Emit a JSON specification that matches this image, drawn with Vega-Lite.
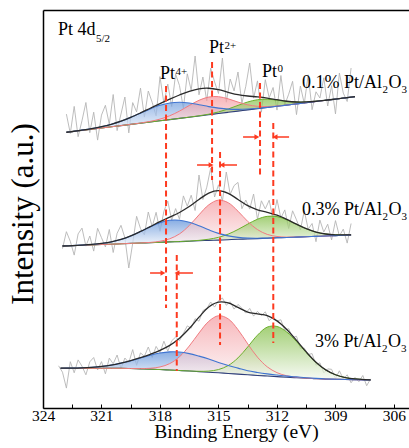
{
  "$schema": "https://vega.github.io/schema/vega-lite/v6.json",
  "width": 366,
  "height": 398,
  "autosize": {"type": "none"},
  "padding": {"left": 43, "top": 10, "right": 0, "bottom": 40},
  "background": "white",
  "config": {
    "view": {"stroke": null},
    "font": "Liberation Serif",
    "axis": {"labelFont": "Liberation Serif", "titleFont": "Liberation Serif", "titleFontWeight": "normal", "labelColor": "black", "titleColor": "black", "domainColor": "black", "tickColor": "black", "grid": false}
  },
  "resolve": {"axis": {"x": "independent", "y": "independent"}},
  "datasets": {
    "raw": [
      {"s":"a","e":322.8,"v":293.9},{"s":"a","e":322.6,"v":274.6},{"s":"a","e":322.4,"v":301.6},{"s":"a","e":322.2,"v":271.3},{"s":"a","e":322.0,"v":287.3},{"s":"a","e":321.8,"v":305.5},{"s":"a","e":321.6,"v":275.3},{"s":"a","e":321.4,"v":295.8},{"s":"a","e":321.2,"v":267.9},{"s":"a","e":321.0,"v":292.9},
      {"s":"a","e":320.8,"v":302.7},{"s":"a","e":320.6,"v":283.8},{"s":"a","e":320.4,"v":313.5},{"s":"a","e":320.2,"v":277.4},{"s":"a","e":320.0,"v":294.0},{"s":"a","e":319.8,"v":311.0},{"s":"a","e":319.6,"v":275.1},{"s":"a","e":319.4,"v":305.4},{"s":"a","e":319.2,"v":296.1},{"s":"a","e":319.0,"v":319.9},
      {"s":"a","e":318.8,"v":290.9},{"s":"a","e":318.6,"v":317.0},{"s":"a","e":318.4,"v":305.6},{"s":"a","e":318.2,"v":292.1},{"s":"a","e":318.0,"v":331.4},{"s":"a","e":317.8,"v":304.6},{"s":"a","e":317.6,"v":323.9},{"s":"a","e":317.4,"v":301.4},{"s":"a","e":317.2,"v":333.9},{"s":"a","e":317.0,"v":322.4},
      {"s":"a","e":316.8,"v":299.7},{"s":"a","e":316.6,"v":334.2},{"s":"a","e":316.4,"v":317.8},{"s":"a","e":316.2,"v":352},{"s":"a","e":316.0,"v":313.2},{"s":"a","e":315.8,"v":331.0},{"s":"a","e":315.6,"v":307.1},{"s":"a","e":315.4,"v":339.9},{"s":"a","e":315.2,"v":326.1},{"s":"a","e":315.0,"v":314.5},
      {"s":"a","e":314.8,"v":350},{"s":"a","e":314.6,"v":305.8},{"s":"a","e":314.4,"v":329.0},{"s":"a","e":314.2,"v":317.1},{"s":"a","e":314.0,"v":336.0},{"s":"a","e":313.8,"v":304.6},{"s":"a","e":313.6,"v":321.7},{"s":"a","e":313.4,"v":345},{"s":"a","e":313.2,"v":309.9},{"s":"a","e":313.0,"v":327.1},
      {"s":"a","e":312.8,"v":295.8},{"s":"a","e":312.6,"v":328.3},{"s":"a","e":312.4,"v":310.2},{"s":"a","e":312.2,"v":320.5},{"s":"a","e":312.0,"v":297.9},{"s":"a","e":311.8,"v":332.5},{"s":"a","e":311.6,"v":303.3},{"s":"a","e":311.4,"v":313.8},{"s":"a","e":311.2,"v":326.7},{"s":"a","e":311.0,"v":293.4},
      {"s":"a","e":310.8,"v":322.0},{"s":"a","e":310.6,"v":304.4},{"s":"a","e":310.4,"v":333.2},{"s":"a","e":310.2,"v":298.3},{"s":"a","e":310.0,"v":316.2},{"s":"a","e":309.8,"v":310.0},{"s":"a","e":309.6,"v":330.2},{"s":"a","e":309.4,"v":302.0},{"s":"a","e":309.2,"v":322.3},{"s":"a","e":309.0,"v":294.1},
      {"s":"a","e":308.8,"v":335},{"s":"a","e":308.6,"v":314.9},{"s":"a","e":308.4,"v":306.5},{"s":"a","e":308.2,"v":340},
      {"s":"b","e":323.0,"v":159.4},{"s":"b","e":322.8,"v":176.3},{"s":"b","e":322.6,"v":166.7},{"s":"b","e":322.4,"v":152.9},{"s":"b","e":322.2,"v":174.1},{"s":"b","e":322.0,"v":179.9},{"s":"b","e":321.8,"v":161.9},{"s":"b","e":321.6,"v":172.0},{"s":"b","e":321.4,"v":156.9},{"s":"b","e":321.2,"v":179.7},
      {"s":"b","e":321.0,"v":170.3},{"s":"b","e":320.8,"v":161.1},{"s":"b","e":320.6,"v":178.5},{"s":"b","e":320.4,"v":155.5},{"s":"b","e":320.2,"v":174.7},{"s":"b","e":320.0,"v":182.7},{"s":"b","e":319.8,"v":170.1},{"s":"b","e":319.6,"v":140},{"s":"b","e":319.4,"v":164.7},{"s":"b","e":319.2,"v":191.7},
      {"s":"b","e":319.0,"v":179.5},{"s":"b","e":318.8,"v":173.1},{"s":"b","e":318.6,"v":196.0},{"s":"b","e":318.4,"v":181.2},{"s":"b","e":318.2,"v":195.7},{"s":"b","e":318.0,"v":176.7},{"s":"b","e":317.8,"v":196.7},{"s":"b","e":317.6,"v":206.9},{"s":"b","e":317.4,"v":187.7},{"s":"b","e":317.2,"v":199.4},
      {"s":"b","e":317.0,"v":188.7},{"s":"b","e":316.8,"v":212.1},{"s":"b","e":316.6,"v":201.8},{"s":"b","e":316.4,"v":212.8},{"s":"b","e":316.2,"v":197.5},{"s":"b","e":316.0,"v":233},{"s":"b","e":315.8,"v":208.5},{"s":"b","e":315.6,"v":220.8},{"s":"b","e":315.4,"v":240},{"s":"b","e":315.2,"v":211.0},
      {"s":"b","e":315.0,"v":223.2},{"s":"b","e":314.8,"v":206.7},{"s":"b","e":314.6,"v":236},{"s":"b","e":314.4,"v":213.7},{"s":"b","e":314.2,"v":222.4},{"s":"b","e":314.0,"v":225.6},{"s":"b","e":313.8,"v":199.3},{"s":"b","e":313.6,"v":208.0},{"s":"b","e":313.4,"v":198.9},{"s":"b","e":313.2,"v":214.0},
      {"s":"b","e":313.0,"v":188.6},{"s":"b","e":312.8,"v":207.2},{"s":"b","e":312.6,"v":199.1},{"s":"b","e":312.4,"v":207.8},{"s":"b","e":312.2,"v":188.5},{"s":"b","e":312.0,"v":208.4},{"s":"b","e":311.8,"v":190.0},{"s":"b","e":311.6,"v":198.1},{"s":"b","e":311.4,"v":179.5},{"s":"b","e":311.2,"v":197.2},
      {"s":"b","e":311.0,"v":188.2},{"s":"b","e":310.8,"v":178.0},{"s":"b","e":310.6,"v":197.2},{"s":"b","e":310.4,"v":178.8},{"s":"b","e":310.2,"v":184.5},{"s":"b","e":310.0,"v":166.3},{"s":"b","e":309.8,"v":187.9},{"s":"b","e":309.6,"v":176.0},{"s":"b","e":309.4,"v":183.8},{"s":"b","e":309.2,"v":168.1},
      {"s":"b","e":309.0,"v":187.4},{"s":"b","e":308.8,"v":172.0},{"s":"b","e":308.6,"v":178.9},{"s":"b","e":308.4,"v":164.9},{"s":"b","e":308.2,"v":184.5},
      {"s":"c","e":323.2,"v":42.2},{"s":"c","e":323.0,"v":35.8},{"s":"c","e":322.8,"v":19.9},{"s":"c","e":322.6,"v":46.3},{"s":"c","e":322.4,"v":35.2},{"s":"c","e":322.2,"v":48.1},{"s":"c","e":322.0,"v":41.8},{"s":"c","e":321.8,"v":33.2},{"s":"c","e":321.6,"v":46.2},{"s":"c","e":321.4,"v":50.5},
      {"s":"c","e":321.2,"v":38.0},{"s":"c","e":321.0,"v":46.4},{"s":"c","e":320.8,"v":34.2},{"s":"c","e":320.6,"v":49.9},{"s":"c","e":320.4,"v":44.2},{"s":"c","e":320.2,"v":53.0},{"s":"c","e":320.0,"v":39.4},{"s":"c","e":319.8,"v":50.0},{"s":"c","e":319.6,"v":45.3},{"s":"c","e":319.4,"v":58.4},
      {"s":"c","e":319.2,"v":42.7},{"s":"c","e":319.0,"v":55.1},{"s":"c","e":318.8,"v":51.7},{"s":"c","e":318.6,"v":61.0},{"s":"c","e":318.4,"v":50.5},{"s":"c","e":318.2,"v":61.6},{"s":"c","e":318.0,"v":55.2},{"s":"c","e":317.8,"v":66.8},{"s":"c","e":317.6,"v":56.8},{"s":"c","e":317.4,"v":67.2},
      {"s":"c","e":317.2,"v":70.9},{"s":"c","e":317.0,"v":67.3},{"s":"c","e":316.8,"v":74.7},{"s":"c","e":316.6,"v":82.1},{"s":"c","e":316.4,"v":79.8},{"s":"c","e":316.2,"v":89.3},{"s":"c","e":316.0,"v":86.8},{"s":"c","e":315.8,"v":97.4},{"s":"c","e":315.6,"v":99.5},{"s":"c","e":315.4,"v":106.0},
      {"s":"c","e":315.2,"v":100.9},{"s":"c","e":315.0,"v":107.3},{"s":"c","e":314.8,"v":110.0},{"s":"c","e":314.6,"v":102.8},{"s":"c","e":314.4,"v":106.2},{"s":"c","e":314.2,"v":98.9},{"s":"c","e":314.0,"v":103.6},{"s":"c","e":313.8,"v":99.8},{"s":"c","e":313.6,"v":94.9},{"s":"c","e":313.4,"v":99.6},
      {"s":"c","e":313.2,"v":91.9},{"s":"c","e":313.0,"v":96.6},{"s":"c","e":312.8,"v":92.4},{"s":"c","e":312.6,"v":96.2},{"s":"c","e":312.4,"v":87.3},{"s":"c","e":312.2,"v":91.2},{"s":"c","e":312.0,"v":87.1},{"s":"c","e":311.8,"v":88.2},{"s":"c","e":311.6,"v":77.7},{"s":"c","e":311.4,"v":79.3},
      {"s":"c","e":311.2,"v":70.5},{"s":"c","e":311.0,"v":71.7},{"s":"c","e":310.8,"v":59.6},{"s":"c","e":310.6,"v":59.9},{"s":"c","e":310.4,"v":53.5},{"s":"c","e":310.2,"v":54.4},{"s":"c","e":310.0,"v":42.8},{"s":"c","e":309.8,"v":45.2},{"s":"c","e":309.6,"v":35.1},{"s":"c","e":309.4,"v":39.1},
      {"s":"c","e":309.2,"v":38.7},{"s":"c","e":309.0,"v":29.3},{"s":"c","e":308.8,"v":37.2},{"s":"c","e":308.6,"v":29.1},{"s":"c","e":308.4,"v":33.2},{"s":"c","e":308.2,"v":25.2},{"s":"c","e":308.0,"v":30.6},{"s":"c","e":307.8,"v":26.3},{"s":"c","e":307.6,"v":32.5},{"s":"c","e":307.4,"v":22.3},
      {"s":"c","e":307.2,"v":29.1}
    ],
    "fit": [
      {"s":"a","e":322.8,"b":275.7,"bl":275.75,"rd":275.7,"gr":275.7,"env":275.75},
      {"s":"a","e":322.5,"b":276.4,"bl":276.5,"rd":276.4,"gr":276.4,"env":276.5},
      {"s":"a","e":322.0,"b":277.6,"bl":277.87,"rd":277.6,"gr":277.6,"env":277.87},
      {"s":"a","e":321.5,"b":278.8,"bl":279.42,"rd":278.8,"gr":278.8,"env":279.42},
      {"s":"a","e":321.0,"b":280.0,"bl":281.32,"rd":280.0,"gr":280.0,"env":281.32},
      {"s":"a","e":320.5,"b":281.2,"bl":283.74,"rd":281.2,"gr":281.2,"env":283.74},
      {"s":"a","e":320.0,"b":282.4,"bl":286.83,"rd":282.41,"gr":282.4,"env":286.84},
      {"s":"a","e":319.5,"b":283.6,"bl":290.62,"rd":283.65,"gr":283.6,"env":290.67},
      {"s":"a","e":319.0,"b":284.8,"bl":294.87,"rd":285.0,"gr":284.8,"env":295.07},
      {"s":"a","e":318.5,"b":286.0,"bl":299.1,"rd":286.63,"gr":286.0,"env":299.73},
      {"s":"a","e":318.0,"b":287.2,"bl":302.67,"rd":288.9,"gr":287.2,"env":304.37},
      {"s":"a","e":317.5,"b":288.4,"bl":304.97,"rd":292.25,"gr":288.4,"env":308.82},
      {"s":"a","e":317.0,"b":289.6,"bl":305.69,"rd":296.92,"gr":289.6,"env":313.01},
      {"s":"a","e":316.5,"b":290.8,"bl":304.98,"rd":302.5,"gr":290.85,"env":316.73},
      {"s":"a","e":316.0,"b":292.0,"bl":303.32,"rd":307.71,"gr":292.19,"env":319.22},
      {"s":"a","e":315.5,"b":293.2,"bl":301.4,"rd":310.94,"gr":293.81,"env":319.75},
      {"s":"a","e":315.0,"b":294.5,"bl":299.89,"rd":311.34,"gr":296.08,"env":318.31},
      {"s":"a","e":314.5,"b":295.7,"bl":298.91,"rd":309.14,"gr":299.03,"env":315.68},
      {"s":"a","e":314.0,"b":296.9,"bl":298.64,"rd":305.91,"gr":302.61,"env":313.36},
      {"s":"a","e":313.5,"b":298.1,"bl":298.95,"rd":303.19,"gr":306.04,"env":311.98},
      {"s":"a","e":313.0,"b":299.3,"bl":299.68,"rd":301.71,"gr":308.29,"env":311.08},
      {"s":"a","e":312.5,"b":300.5,"bl":300.65,"rd":301.46,"gr":308.78,"env":309.89},
      {"s":"a","e":312.0,"b":301.7,"bl":301.75,"rd":302.02,"gr":307.9,"env":308.27},
      {"s":"a","e":311.5,"b":302.9,"bl":302.9,"rd":302.99,"gr":306.67,"env":306.76},
      {"s":"a","e":311.0,"b":304.1,"bl":304.1,"rd":304.12,"gr":305.97,"env":305.99},
      {"s":"a","e":310.5,"b":305.3,"bl":305.3,"rd":305.3,"gr":306.05,"env":306.05},
      {"s":"a","e":310.0,"b":306.5,"bl":306.5,"rd":306.5,"gr":306.75,"env":306.75},
      {"s":"a","e":309.5,"b":307.7,"bl":307.7,"rd":307.7,"gr":307.77,"env":307.77},
      {"s":"a","e":309.0,"b":308.9,"bl":308.9,"rd":308.9,"gr":308.91,"env":308.91},
      {"s":"a","e":308.5,"b":310.1,"bl":310.1,"rd":310.1,"gr":310.1,"env":310.1},
      {"s":"a","e":308.0,"b":311.3,"bl":311.3,"rd":311.3,"gr":311.3,"env":311.3},
      {"s":"b","e":323.0,"b":162.0,"bl":162.01,"rd":162.0,"gr":162.0,"env":162.01},
      {"s":"b","e":322.5,"b":162.3,"bl":162.35,"rd":162.3,"gr":162.3,"env":162.35},
      {"s":"b","e":322.0,"b":162.7,"bl":162.86,"rd":162.7,"gr":162.7,"env":162.86},
      {"s":"b","e":321.5,"b":163.1,"bl":163.53,"rd":163.1,"gr":163.1,"env":163.53},
      {"s":"b","e":321.0,"b":163.5,"bl":164.54,"rd":163.5,"gr":163.5,"env":164.54},
      {"s":"b","e":320.5,"b":163.8,"bl":166.04,"rd":163.8,"gr":163.8,"env":166.04},
      {"s":"b","e":320.0,"b":164.2,"bl":168.52,"rd":164.2,"gr":164.2,"env":168.52},
      {"s":"b","e":319.5,"b":164.6,"bl":172.03,"rd":164.61,"gr":164.6,"env":172.04},
      {"s":"b","e":319.0,"b":165.0,"bl":176.47,"rd":165.07,"gr":165.0,"env":176.54},
      {"s":"b","e":318.5,"b":165.3,"bl":181.13,"rd":165.59,"gr":165.3,"env":181.42},
      {"s":"b","e":318.0,"b":165.7,"bl":185.25,"rd":166.75,"gr":165.7,"env":186.3},
      {"s":"b","e":317.5,"b":166.1,"bl":187.7,"rd":169.24,"gr":166.1,"env":190.84},
      {"s":"b","e":317.0,"b":166.4,"bl":187.77,"rd":174.12,"gr":166.44,"env":195.53},
      {"s":"b","e":316.5,"b":166.8,"bl":185.7,"rd":182.4,"gr":166.93,"env":201.43},
      {"s":"b","e":316.0,"b":167.2,"bl":182.17,"rd":193.17,"gr":167.63,"env":208.57},
      {"s":"b","e":315.5,"b":167.6,"bl":178.21,"rd":203.13,"gr":168.77,"env":214.91},
      {"s":"b","e":315.0,"b":167.9,"bl":174.63,"rd":207.86,"gr":170.66,"env":217.35},
      {"s":"b","e":314.5,"b":168.3,"bl":172.12,"rd":205.25,"gr":173.9,"env":214.67},
      {"s":"b","e":314.0,"b":168.7,"bl":170.64,"rd":196.8,"gr":178.53,"env":208.57},
      {"s":"b","e":313.5,"b":169.0,"bl":169.88,"rd":186.56,"gr":183.88,"env":202.32},
      {"s":"b","e":313.0,"b":169.4,"bl":169.76,"rd":178.42,"gr":188.82,"env":198.2},
      {"s":"b","e":312.5,"b":169.8,"bl":169.93,"rd":173.61,"gr":191.65,"env":195.59},
      {"s":"b","e":312.0,"b":170.2,"bl":170.24,"rd":171.52,"gr":191.42,"env":192.78},
      {"s":"b","e":311.5,"b":170.5,"bl":170.5,"rd":170.88,"gr":188.27,"env":188.65},
      {"s":"b","e":311.0,"b":170.9,"bl":170.9,"rd":170.99,"gr":183.73,"env":183.82},
      {"s":"b","e":310.5,"b":171.3,"bl":171.3,"rd":171.32,"gr":179.29,"env":179.31},
      {"s":"b","e":310.0,"b":171.6,"bl":171.6,"rd":171.6,"gr":175.89,"env":175.89},
      {"s":"b","e":309.5,"b":172.0,"bl":172.0,"rd":172.0,"gr":173.99,"env":173.99},
      {"s":"b","e":309.0,"b":172.4,"bl":172.4,"rd":172.4,"gr":173.19,"env":173.19},
      {"s":"b","e":308.5,"b":172.8,"bl":172.8,"rd":172.8,"gr":173.07,"env":173.07},
      {"s":"b","e":308.2,"b":173.0,"bl":173.0,"rd":173.0,"gr":173.13,"env":173.13},
      {"s":"c","e":323.1,"b":39.7,"bl":39.78,"rd":39.7,"gr":39.7,"env":39.78},
      {"s":"c","e":322.5,"b":39.7,"bl":39.92,"rd":39.7,"gr":39.7,"env":39.92},
      {"s":"c","e":322.0,"b":39.7,"bl":40.19,"rd":39.7,"gr":39.7,"env":40.19},
      {"s":"c","e":321.5,"b":39.7,"bl":40.69,"rd":39.7,"gr":39.7,"env":40.69},
      {"s":"c","e":321.0,"b":39.7,"bl":41.57,"rd":39.7,"gr":39.7,"env":41.57},
      {"s":"c","e":320.5,"b":39.7,"bl":42.96,"rd":39.7,"gr":39.7,"env":42.96},
      {"s":"c","e":320.0,"b":39.7,"bl":44.96,"rd":39.7,"gr":39.7,"env":44.96},
      {"s":"c","e":319.5,"b":39.43,"bl":47.3,"rd":39.49,"gr":39.43,"env":47.36},
      {"s":"c","e":319.0,"b":39.13,"bl":50.03,"rd":39.39,"gr":39.13,"env":50.29},
      {"s":"c","e":318.5,"b":38.84,"bl":52.82,"rd":39.73,"gr":38.84,"env":53.71},
      {"s":"c","e":318.0,"b":38.44,"bl":55.03,"rd":41.04,"gr":38.44,"env":57.63},
      {"s":"c","e":317.5,"b":37.94,"bl":56.17,"rd":44.41,"gr":37.94,"env":62.64},
      {"s":"c","e":317.0,"b":37.45,"bl":55.99,"rd":51.24,"gr":37.45,"env":69.78},
      {"s":"c","e":316.5,"b":36.94,"bl":54.4,"rd":61.94,"gr":37.02,"env":79.48},
      {"s":"c","e":316.0,"b":36.36,"bl":51.86,"rd":74.99,"gr":36.69,"env":90.82},
      {"s":"c","e":315.5,"b":35.77,"bl":48.97,"rd":86.64,"gr":36.9,"env":100.97},
      {"s":"c","e":315.0,"b":35.19,"bl":45.49,"rd":92.27,"gr":38.45,"env":105.83},
      {"s":"c","e":314.5,"b":34.54,"bl":42.54,"rd":89.12,"gr":42.47,"env":105.05},
      {"s":"c","e":314.0,"b":33.87,"bl":39.87,"rd":78.34,"gr":50.09,"env":100.56},
      {"s":"c","e":313.5,"b":33.2,"bl":37.2,"rd":64.08,"gr":61.08,"env":95.96},
      {"s":"c","e":313.0,"b":32.55,"bl":35.55,"rd":50.82,"gr":72.84,"env":94.11},
      {"s":"c","e":312.5,"b":31.96,"bl":34.16,"rd":41.17,"gr":80.9,"env":92.31},
      {"s":"c","e":312.0,"b":31.38,"bl":32.98,"rd":35.33,"gr":81.55,"env":87.1},
      {"s":"c","e":311.5,"b":30.79,"bl":31.89,"rd":32.24,"gr":75.97,"env":78.52},
      {"s":"c","e":311.0,"b":30.28,"bl":31.08,"rd":30.73,"gr":66.41,"env":67.66},
      {"s":"c","e":310.5,"b":29.79,"bl":30.29,"rd":29.91,"gr":55.44,"env":56.06},
      {"s":"c","e":310.0,"b":29.29,"bl":29.59,"rd":29.32,"gr":45.46,"env":45.79},
      {"s":"c","e":309.5,"b":28.91,"bl":29.06,"rd":28.91,"gr":37.97,"env":38.12},
      {"s":"c","e":309.0,"b":28.71,"bl":28.76,"rd":28.71,"gr":33.21,"env":33.26},
      {"s":"c","e":308.5,"b":28.5,"bl":28.5,"rd":28.5,"gr":30.48,"env":30.48},
      {"s":"c","e":308.0,"b":28.3,"bl":28.3,"rd":28.3,"gr":29.08,"env":29.08},
      {"s":"c","e":307.5,"b":28.1,"bl":28.1,"rd":28.1,"gr":28.37,"env":28.37},
      {"s":"c","e":307.2,"b":28.0,"bl":28.0,"rd":28.0,"gr":28.14,"env":28.14}
    ],
    "drops": [
      {"e":317.69,"y1":322,"y2":100},
      {"e":317.14,"y1":153,"y2":37},
      {"e":315.33,"y1":346,"y2":228},
      {"e":314.92,"y1":256,"y2":63},
      {"e":312.87,"y1":325,"y2":233},
      {"e":312.19,"y1":285,"y2":65}
    ],
    "arrows": [
      {"e1":313.74,"e2":313.03,"y":271,"dir":"right"},
      {"e1":311.38,"e2":312.10,"y":271,"dir":"left"},
      {"e1":316.10,"e2":315.38,"y":243,"dir":"right"},
      {"e1":314.05,"e2":314.82,"y":243,"dir":"left"},
      {"e1":318.51,"e2":317.85,"y":135,"dir":"right"},
      {"e1":316.31,"e2":317.13,"y":135,"dir":"left"}
    ],
    "lab": [
      {"t":"Pt 4d","e":323.23,"y":373},
      {"t":"Pt","e":318.0,"y":328.7},
      {"t":"Pt","e":315.49,"y":354.7},
      {"t":"Pt","e":312.77,"y":331.3},
      {"t":"0.1% Pt/Al","e":310.72,"y":320},
      {"t":"O","e":306.28,"y":320},
      {"t":"0.3% Pt/Al","e":310.72,"y":193},
      {"t":"O","e":306.28,"y":193},
      {"t":"3% Pt/Al","e":310.05,"y":61},
      {"t":"O","e":306.31,"y":61}
    ],
    "sub": [
      {"t":"5/2","e":321.28,"y":366},
      {"t":"4+","e":317.21,"y":333.2},
      {"t":"2+","e":314.69,"y":359.2},
      {"t":"0","e":311.97,"y":335.8},
      {"t":"2","e":306.59,"y":315},
      {"t":"3","e":305.62,"y":315},
      {"t":"2","e":306.59,"y":188},
      {"t":"3","e":305.62,"y":188},
      {"t":"2","e":306.62,"y":56},
      {"t":"3","e":305.64,"y":56}
    ]
  },
  "layer": [
    {
      "data": {"name": "raw"},
      "mark": {"type": "line", "color": "#b5b5b5", "strokeWidth": 0.9},
      "encoding": {
        "x": {"field": "e", "type": "quantitative", "scale": {"domain": [324, 305.23], "nice": false, "zero": false},
          "axis": {"orient": "bottom", "values": [324, 322.5, 321, 319.5, 318, 316.5, 315, 313.5, 312, 310.5, 309, 307.5, 306],
            "labelExpr": "datum.value % 3 == 0 ? format(datum.value, 'd') : ''", "labelFont": "Liberation Serif", "labelFontSize": 15.5, "labelFlush": false, "labelOverlap": false,
            "tickSize": -4, "tickWidth": 1, "labelPadding": 4, "domainWidth": 1.5,
            "title": "Binding Energy (eV)", "titleFont": "Liberation Serif", "titleFontSize": 19.5, "titleX": 193, "titleY": 29, "titleBaseline": "alphabetic", "titleAlign": "center"}},
        "y": {"field": "v", "type": "quantitative", "scale": {"domain": [0, 398], "nice": false, "zero": false},
          "axis": {"orient": "left", "ticks": false, "labels": false, "domainWidth": 1.5,
            "title": "Intensity (a.u.)", "titleFont": "Liberation Serif", "titleFontSize": 31, "titleX": -11, "titleY": 203.5, "titleAngle": 270, "titleAlign": "center", "titleBaseline": "alphabetic"}},
        "detail": {"field": "s"}
      }
    },
    {
      "data": {"name": "fit"},
      "mark": {"type": "area", "interpolate": "catmull-rom", "opacity": 0.72,
        "fill": {"gradient": "linear", "x1": 0, "y1": 0, "x2": 0, "y2": 1, "stops": [{"offset": 0, "color": "#5a8ed8"}, {"offset": 1, "color": "#f4f7fc"}]}},
      "encoding": {
        "x": {"field": "e", "type": "quantitative", "axis": null},
        "y": {"field": "bl", "type": "quantitative", "axis": null},
        "y2": {"field": "b"},
        "detail": {"field": "s"}
      }
    },
    {
      "data": {"name": "fit"},
      "mark": {"type": "area", "interpolate": "catmull-rom", "opacity": 0.7,
        "fill": {"gradient": "linear", "x1": 0, "y1": 0, "x2": 0, "y2": 1, "stops": [{"offset": 0, "color": "#f4979d"}, {"offset": 1, "color": "#fbf4f5"}]}},
      "encoding": {
        "x": {"field": "e", "type": "quantitative", "axis": null},
        "y": {"field": "rd", "type": "quantitative", "axis": null},
        "y2": {"field": "b"},
        "detail": {"field": "s"}
      }
    },
    {
      "data": {"name": "fit"},
      "mark": {"type": "area", "interpolate": "catmull-rom", "opacity": 0.7,
        "fill": {"gradient": "linear", "x1": 0, "y1": 0, "x2": 0, "y2": 1, "stops": [{"offset": 0, "color": "#7cbb3c"}, {"offset": 1, "color": "#f4f8f1"}]}},
      "encoding": {
        "x": {"field": "e", "type": "quantitative", "axis": null},
        "y": {"field": "gr", "type": "quantitative", "axis": null},
        "y2": {"field": "b"},
        "detail": {"field": "s"}
      }
    },
    {
      "data": {"name": "fit"},
      "mark": {"type": "line", "interpolate": "catmull-rom", "color": "#2f3f7a", "strokeWidth": 1.1},
      "encoding": {
        "x": {"field": "e", "type": "quantitative", "axis": null},
        "y": {"field": "b", "type": "quantitative", "axis": null},
        "detail": {"field": "s"}
      }
    },
    {
      "data": {"name": "fit"},
      "mark": {"type": "line", "interpolate": "catmull-rom", "color": "#6cb02c", "strokeWidth": 1},
      "encoding": {
        "x": {"field": "e", "type": "quantitative", "axis": null},
        "y": {"field": "gr", "type": "quantitative", "axis": null},
        "detail": {"field": "s"}
      }
    },
    {
      "data": {"name": "fit"},
      "mark": {"type": "line", "interpolate": "catmull-rom", "color": "#f07b80", "strokeWidth": 1},
      "encoding": {
        "x": {"field": "e", "type": "quantitative", "axis": null},
        "y": {"field": "rd", "type": "quantitative", "axis": null},
        "detail": {"field": "s"}
      }
    },
    {
      "data": {"name": "fit"},
      "mark": {"type": "line", "interpolate": "catmull-rom", "color": "#3f74d1", "strokeWidth": 1.1},
      "encoding": {
        "x": {"field": "e", "type": "quantitative", "axis": null},
        "y": {"field": "bl", "type": "quantitative", "axis": null},
        "detail": {"field": "s"}
      }
    },
    {
      "data": {"name": "fit"},
      "mark": {"type": "line", "interpolate": "catmull-rom", "color": "#2a2a2a", "strokeWidth": 1.3},
      "encoding": {
        "x": {"field": "e", "type": "quantitative",
          "axis": {"orient": "top", "labels": false, "ticks": false, "title": null, "domainWidth": 1.5}},
        "y": {"field": "env", "type": "quantitative", "axis": null},
        "detail": {"field": "s"}
      }
    },
    {
      "data": {"name": "drops"},
      "mark": {"type": "rule", "color": "#fd3a20", "strokeWidth": 2, "strokeDash": [6, 3.5]},
      "encoding": {
        "x": {"field": "e", "type": "quantitative", "axis": null},
        "y": {"field": "y1", "type": "quantitative", "axis": null},
        "y2": {"field": "y2"}
      }
    },
    {
      "data": {"name": "arrows"},
      "mark": {"type": "rule", "color": "#fd3a20", "strokeWidth": 1.5},
      "encoding": {
        "x": {"field": "e1", "type": "quantitative", "axis": null},
        "x2": {"field": "e2"},
        "y": {"field": "y", "type": "quantitative", "axis": null}
      }
    },
    {
      "data": {"name": "arrows"},
      "transform": [{"filter": "datum.dir == 'right'"}],
      "mark": {"type": "point", "shape": "triangle-right", "filled": true, "color": "#fd3a20", "size": 32, "opacity": 1, "dx": -3},
      "encoding": {
        "x": {"field": "e2", "type": "quantitative", "axis": null},
        "y": {"field": "y", "type": "quantitative", "axis": null}
      }
    },
    {
      "data": {"name": "arrows"},
      "transform": [{"filter": "datum.dir == 'left'"}],
      "mark": {"type": "point", "shape": "triangle-left", "filled": true, "color": "#fd3a20", "size": 32, "opacity": 1, "dx": 3},
      "encoding": {
        "x": {"field": "e2", "type": "quantitative", "axis": null},
        "y": {"field": "y", "type": "quantitative", "axis": null}
      }
    },
    {
      "data": {"name": "lab"},
      "mark": {"type": "text", "font": "Liberation Serif", "fontSize": 18, "align": "left", "baseline": "alphabetic", "color": "black"},
      "encoding": {
        "x": {"field": "e", "type": "quantitative", "axis": null},
        "y": {"field": "y", "type": "quantitative", "axis": null},
        "text": {"field": "t"}
      }
    },
    {
      "data": {"name": "sub"},
      "mark": {"type": "text", "font": "Liberation Serif", "fontSize": 11, "align": "left", "baseline": "alphabetic", "color": "black"},
      "encoding": {
        "x": {"field": "e", "type": "quantitative", "axis": null},
        "y": {"field": "y", "type": "quantitative", "axis": null},
        "text": {"field": "t"}
      }
    }
  ]
}
